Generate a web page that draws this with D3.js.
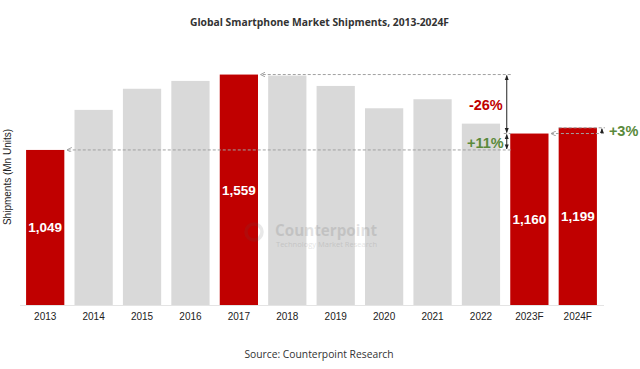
<!DOCTYPE html>
<html><head><meta charset="utf-8">
<script src="https://cdn.jsdelivr.net/npm/d3@7"></script>
<style>body{margin:0;background:#fff}svg{display:block}</style>
</head><body><svg id="c" width="640" height="369"></svg>
<script>
const years = ["2013","2014","2015","2016","2017","2018","2019","2020","2021","2022","2023F","2024F"];
const shipments = [1049, 1320, 1463, 1516, 1559, 1552, 1482, 1331, 1392, 1227, 1160, 1199];
const highlighted = ["2013","2017","2023F","2024F"];
const valueLabels = {"2013":"1,049","2017":"1,559","2023F":"1,160","2024F":"1,199"};
const changes = [
  {label:"-26%", from:"2017", to:"2023F", color:"#C00000"},
  {label:"+11%", from:"2013", to:"2023F", color:"#5A8A3C"},
  {label:"+3%", from:"2023F", to:"2024F", color:"#5A8A3C"}
];
const title = "Global Smartphone Market Shipments, 2013-2024F";
const source = "Source: Counterpoint Research";
const yTitle = "Shipments (Mn Units)";

const svg = d3.select("#c");
const RED = "#C00000", GREY = "#D9D9D9";
const x = d3.scaleBand().domain(years).range([21, 602]).paddingInner(0.21).paddingOuter(0.105);
const y = d3.scaleLinear().domain([0, 1600]).range([305, 68.5]);
const val = Object.fromEntries(years.map((yr,i)=>[yr, shipments[i]]));

const defs = svg.append("defs");
defs.append("marker").attr("id","ag").attr("viewBox","0 0 10 10").attr("refX",9).attr("refY",5)
  .attr("markerWidth",5).attr("markerHeight",5).attr("orient","auto-start-reverse")
  .append("path").attr("d","M0,0 L10,5 L0,10").attr("fill","none").attr("stroke","#9a9a9a").attr("stroke-width",1.8);
defs.append("marker").attr("id","ab").attr("viewBox","0 0 10 10").attr("refX",9).attr("refY",5)
  .attr("markerWidth",5).attr("markerHeight",5).attr("orient","auto-start-reverse")
  .append("path").attr("d","M0,1 L10,5 L0,9 Z").attr("fill","#222");

// title
svg.append("text").attr("x",319.5).attr("y",25.5).attr("text-anchor","middle")
  .attr("font-family","Open Sans").attr("font-weight","bold").attr("font-size",10.8)
  .attr("textLength",259).attr("lengthAdjust","spacingAndGlyphs").attr("fill","#333").text(title);

// bars
svg.append("g").selectAll("rect").data(years).join("rect")
  .attr("x",d=>x(d)).attr("width",x.bandwidth())
  .attr("y",d=>y(val[d])).attr("height",d=>y(0)-y(val[d]))
  .attr("fill",d=>highlighted.includes(d)?RED:GREY);

// watermark (drawn over bars, faint)
const wm = svg.append("g").attr("opacity",0.13);
wm.append("circle").attr("cx",254).attr("cy",232).attr("r",8).attr("fill","none").attr("stroke","#555").attr("stroke-width",3.5);
wm.append("text").attr("x",275).attr("y",236).attr("font-family","Open Sans").attr("font-weight","bold")
  .attr("font-size",15.5).attr("textLength",102).attr("lengthAdjust","spacingAndGlyphs").attr("fill","#333").text("Counterpoint");
wm.append("text").attr("x",276).attr("y",247).attr("font-family","Open Sans")
  .attr("font-size",6.5).attr("textLength",101).attr("lengthAdjust","spacingAndGlyphs").attr("fill","#333").text("Technology Market Research");

// baseline
svg.append("line").attr("x1",20).attr("x2",604).attr("y1",y(0)+0.5).attr("y2",y(0)+0.5).attr("stroke","#e4e4e4");

// x axis labels
const xa = svg.append("g").attr("transform",`translate(0,${y(0)})`).call(d3.axisBottom(x).tickSize(0).tickPadding(8));
xa.select(".domain").remove();
xa.selectAll("text").attr("font-family","Liberation Sans, Arial").attr("font-size",10).attr("fill","#222");

// y title
svg.append("text").attr("transform",`translate(11,177) rotate(-90)`).attr("text-anchor","middle")
  .attr("font-family","Liberation Sans, Arial").attr("font-size",10).attr("fill","#222").text(yTitle);

// value labels
svg.append("g").selectAll("text").data(Object.keys(valueLabels)).join("text")
  .attr("x",d=>x(d)+x.bandwidth()/2).attr("y",d=>(y(val[d])+y(0))/2+5)
  .attr("text-anchor","middle").attr("font-family","Liberation Sans, Arial").attr("font-weight","bold")
  .attr("font-size",13.5).attr("fill","#fff").text(d=>valueLabels[d]);

// dashed reference lines with arrows
const ax = x("2023F") - 3.5;
function dashed(x1,x2,yy){
  svg.append("line").attr("x1",x2).attr("x2",x1).attr("y1",yy).attr("y2",yy)
    .attr("stroke","#a0a0a0").attr("stroke-width",1).attr("stroke-dasharray","3,2").attr("marker-end","url(#ag)");
}
dashed(x("2017")+x.bandwidth()+3, ax+4, y(val["2017"]));
dashed(x("2013")+x.bandwidth()+3, ax+4, y(val["2013"]));
dashed(x("2023F")+x.bandwidth()+3, x("2024F")+x.bandwidth()+7, y(val["2023F"]));
svg.append("line").attr("x1",x("2024F")).attr("x2",x("2024F")+x.bandwidth()+8).attr("y1",y(val["2024F"])).attr("y2",y(val["2024F"]))
  .attr("stroke","#a0a0a0").attr("stroke-width",1).attr("stroke-dasharray","3,2");
svg.append("line").attr("x1",ax-3).attr("x2",ax+4).attr("y1",y(val["2023F"])).attr("y2",y(val["2023F"]))
  .attr("stroke","#a0a0a0").attr("stroke-width",1).attr("stroke-dasharray","3,2");

function varrow(xx,y1,y2){
  svg.append("line").attr("x1",xx).attr("x2",xx).attr("y1",y1+1).attr("y2",y2-1)
    .attr("stroke","#222").attr("stroke-width",1).attr("marker-start","url(#ab)").attr("marker-end","url(#ab)");
}
varrow(ax, y(val["2017"]), y(val["2023F"]));
varrow(ax, y(val["2023F"]), y(val["2013"]));
const ax2 = x("2024F")+x.bandwidth()+5;
svg.append("line").attr("x1",ax2).attr("x2",ax2).attr("y1",y(val["2023F"])-0.5).attr("y2",y(val["2024F"])+1)
  .attr("stroke","#222").attr("stroke-width",1).attr("marker-end","url(#ab)");

// percent labels
function ptext(t,xx,yy,color,anchor){
  svg.append("text").attr("x",xx).attr("y",yy).attr("text-anchor",anchor).attr("fill",color)
    .attr("font-family","Liberation Sans, Arial").attr("font-weight","bold").attr("font-size",14.5).text(t);
}
ptext(changes[0].label, ax-4, (y(val["2017"])+y(val["2023F"]))/2+6, changes[0].color, "end");
ptext(changes[1].label, ax-3, (y(val["2023F"])+y(val["2013"]))/2+6, changes[1].color, "end");
ptext(changes[2].label, ax2+7, (y(val["2023F"])+y(val["2024F"]))/2+5, changes[2].color, "start");

// source
svg.append("text").attr("x",319).attr("y",358).attr("text-anchor","middle")
  .attr("font-family","Open Sans").attr("font-size",10.3).attr("fill","#333").text(source);
</script></body></html>
